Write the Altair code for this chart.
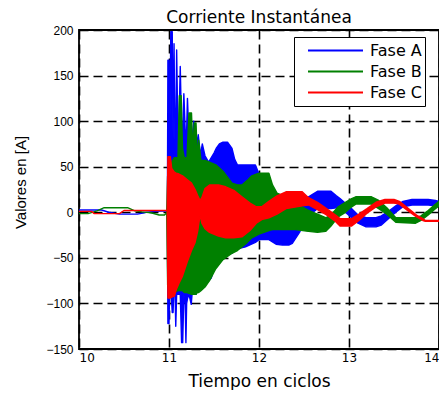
import altair as alt
import pandas as pd

# ---------------- data ----------------
# Fase A (blue): time in cycles, upper and lower envelope of the trace
a_t = [10.00, 10.25, 10.33, 10.45, 10.65, 10.75, 10.85, 10.982,
       10.988, 11.000, 11.008, 11.020, 11.036, 11.045, 11.056, 11.066, 11.075, 11.085,
       11.098, 11.110, 11.125, 11.140, 11.152, 11.165, 11.180, 11.188, 11.196, 11.205,
       11.222, 11.247, 11.260, 11.275, 11.300, 11.325, 11.350, 11.370, 11.400, 11.440,
       11.470, 11.500, 11.524, 11.560, 11.600, 11.650, 11.700, 11.730, 11.760, 11.850,
       11.960, 12.000, 12.050, 12.110, 12.190, 12.260, 12.330, 12.370, 12.450, 12.520,
       12.600, 12.650, 12.800, 12.860, 12.900, 12.960, 13.030, 13.100, 13.190, 13.300,
       13.360, 13.450, 13.520, 13.600, 13.700, 13.880, 13.960, 14.000]
a_hi = [2.5, 2.5, 0, -2, -2, 0, 1, 1.5,
        167, 167, 70, 198, 198, 80, 185, 80, 80, 178,
        90, 90, 160, 90, 90, 130, 90, 90, 90, 125,
        80, 100, 75, 100, 70, 85, 62, 75, 62, 55,
        60, 65, 70, 75, 77, 77, 70, 58, 52, 52,
        52, 42, 35, 25, 15, 8, 5, 6, 10, 15,
        20, 23, 23, 18, 15, 10, 4, -3, -6, -6,
        -4, 2, 7, 12, 14, 14, 13, 12]
a_lo = [2.5, 2.5, 0, -2, -2, 0, 1, 1.5,
        -122, -122, -80, -80, -110, -110, -80, -80, -125, -90,
        -90, -90, -90, -143, -143, -90, -100, -143, -100, -95,
        -90, -101, -85, -85, -90, -82, -80, -82, -78, -75,
        -72, -62, -58, -52, -49, -46, -45, -42, -40, -38,
        -33, -30, -30, -30, -35, -36, -36, -34, -22, -8,
        0, 4, 4, 5, 5, 0, -6, -12, -16, -16,
        -14, -6, 0, 6, 8, 8, 7, 7]

# Fase B (green)
b_t = [10.00, 10.10, 10.20, 10.28, 10.54, 10.62, 10.70, 10.80, 10.89, 10.95, 10.975,
       10.985, 11.000, 11.030, 11.060, 11.100, 11.115, 11.135, 11.150, 11.170, 11.200,
       11.222, 11.250, 11.265, 11.280, 11.300, 11.315, 11.330, 11.355, 11.400, 11.450,
       11.520, 11.600, 11.700, 11.760, 11.810, 11.870, 11.920, 12.000, 12.110, 12.150,
       12.200, 12.300, 12.400, 12.550, 12.650, 12.740, 12.800, 12.880, 12.960, 13.030,
       13.075, 13.250, 13.330, 13.420, 13.520, 13.740, 13.800, 13.880, 13.950, 14.000]
b_hi = [-1.5, -1.5, 1.5, 5, 5, 1.5, 0.5, -0.5, -3, -3, -0.5,
        40, 45, 55, 60, 60, 128, 128, 70, 60, 60,
        109, 109, 65, 98, 98, 60, 79, 57, 57, 55,
        52, 45, 32, 30, 30, 35, 40, 43, 43, 30,
        21, 17, 10, 2, -2, -6, -3, 6, 11, 15,
        17, 17, 13, 5, -6, -6, -4, 2, 8, 12]
b_lo = [-1.5, -1.5, 1.5, 5, 5, 1.5, 0.5, -0.5, -3, -3, -0.5,
        -80, -85, -88, -88, -86, -86, -86, -86, -88, -88,
        -89, -90, -90, -90, -90, -88, -88, -86, -82, -75,
        -62, -52, -45, -42, -38, -33, -28, -24, -20, -19,
        -19, -19, -19, -21, -22, -21, -15, -5, 0, 6,
        9, 9, 4, -2, -11, -12, -9, -3, 3, 7]

# Fase C (red)
c_t = [10.00, 10.14, 10.17, 10.45, 10.50, 10.98,
       10.988, 11.015, 11.030, 11.060, 11.080, 11.110, 11.150, 11.200, 11.250, 11.290,
       11.320, 11.345, 11.365, 11.400, 11.450, 11.550, 11.630, 11.720, 11.810, 11.900,
       11.970, 12.030, 12.110, 12.200, 12.300, 12.480, 12.550, 12.650, 12.750, 12.850,
       12.900, 13.030, 13.110, 13.200, 13.300, 13.400, 13.500, 13.560, 13.650, 13.750,
       13.820, 13.850, 14.000]
c_hi = [1, 1, -1.5, -1.5, 2, 2,
        61, 61, 48, 44, 43, 42, 40, 36, 32, 25,
        18, 13, 16, 26, 30, 30, 28, 24, 17, 10,
        6, 6, 12, 18, 22.5, 22.5, 16, 11, 4, -3,
        -7, -7, -2, 4, 11, 14, 14, 12, 5, -3,
        -7, -9, -9]
c_lo = [1, 1, -1.5, -1.5, 2, 2,
        -94, -94, -93, -92, -85, -78, -70, -55, -42, -33,
        -20, -3, -12, -18, -22, -26, -28, -28, -27, -20,
        -12, -8, -6, -2, 4, 7, 8, 3, -3, -10,
        -15, -15, -9, -1, 6, 10, 10, 9, 2, -5,
        -9, -10, -10]

series_names = ["Fase A", "Fase B", "Fase C"]
series_colors = ["#0000ff", "#008000", "#ff0000"]
x_ticks = [10, 11, 12, 13, 14]
y_ticks = [-150, -100, -50, 0, 50, 100, 150, 200]

# ---------------- build table ----------------
frames = []
for name, t, hi, lo in zip(series_names, [a_t, b_t, c_t], [a_hi, b_hi, c_hi], [a_lo, b_lo, c_lo]):
    frames.append(pd.DataFrame({"t": t, "hi": hi, "lo": lo, "fase": name}))
df = pd.concat(frames, ignore_index=True)

color_scale = alt.Scale(domain=series_names, range=series_colors)
legend = alt.Legend(
    title=None, orient="none", legendX=215, legendY=7,
    symbolType="stroke", symbolSize=3025, symbolStrokeWidth=2,
    clipHeight=21, rowPadding=0, padding=3, symbolOffset=10, labelOffset=6,
    strokeColor="black", fillColor="white", cornerRadius=0,
    labelFont="DejaVu Sans", labelFontSize=16, labelColor="black",
    labelExpr="datum.label + ' '",
)

x_enc = alt.X("t:Q", scale=alt.Scale(domain=[10, 14], nice=False),
              axis=alt.Axis(values=x_ticks, title="Tiempo en ciclos", format="d",
                            titleY=37, titleBaseline="alphabetic"))
y_enc = alt.Y("hi:Q", scale=alt.Scale(domain=[-150, 200], nice=False),
              axis=alt.Axis(values=y_ticks, title="Valores en [A]",
                            titleX=-54, titleY=152, titleAngle=-90,
                            titleBaseline="alphabetic"))

layers = []
for name in series_names:
    layers.append(
        alt.Chart(df).transform_filter(alt.datum.fase == name)
        .mark_area(strokeWidth=1.4, strokeJoin="round", interpolate="linear", clip=True)
        .encode(
            x=x_enc,
            y=y_enc,
            y2="lo:Q",
            fill=alt.Color("fase:N", scale=color_scale, legend=legend),
            stroke=alt.Color("fase:N", scale=color_scale, legend=legend),
        )
    )

chart = (
    alt.layer(*layers)
    .properties(
        width=360, height=319,
        title=alt.TitleParams("Corriente Instantánea", font="DejaVu Sans", fontSize=17,
                              fontWeight="normal", color="black", offset=0, dy=3,
                              frame="group"),
        autosize=alt.AutoSizeParams(type="none"),
        padding={"left": 71, "top": 22, "right": 0, "bottom": 41},
    )
    .configure_view(stroke="black", strokeWidth=1.8)
    .configure_axis(
        grid=True, gridColor="black", gridDash=[9, 5], gridWidth=1.6, gridOpacity=1,
        domain=False, ticks=False,
        labelFont="Liberation Sans", labelFontSize=12, labelColor="black",
        titleFont="DejaVu Sans", titleFontSize=17, titleFontWeight="normal", titleColor="black",
    )
    .configure_axisX(labelPadding=3, labelFont="DejaVu Sans")
    .configure_axisY(labelPadding=6, titleFont="Liberation Sans", titleFontSize=15)
)

chart.save("out.html", embed_options={"renderer": "svg", "actions": False})
